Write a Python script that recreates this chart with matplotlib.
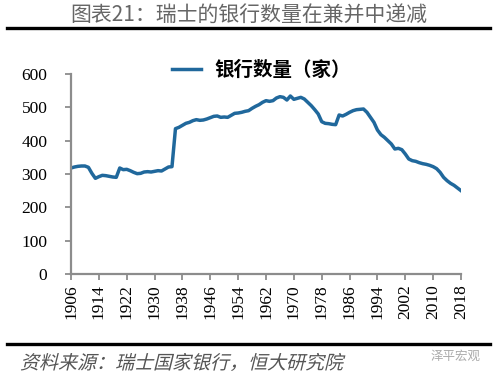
import numpy as np
import matplotlib
matplotlib.use("Agg")
import matplotlib.pyplot as plt
from matplotlib.lines import Line2D
from matplotlib.patches import PathPatch
from matplotlib.textpath import TextPath
from matplotlib.font_manager import FontProperties
from matplotlib.transforms import Affine2D

# bank count in Switzerland, one value per year
years = np.arange(1906, 2019)
banks = [
    318, 321, 323, 324, 324, 320, 302, 287, 292, 296,   # 1906-1915
    295, 293, 291, 290, 318, 313, 314, 310, 305, 301,   # 1916-1925
    302, 306, 307, 306, 308, 310, 309, 315, 321, 322,   # 1926-1935
    436, 440, 446, 452, 455, 460, 463, 461, 462, 465,   # 1936-1945
    469, 473, 474, 470, 471, 470, 476, 482, 483, 485,   # 1946-1955
    488, 490, 497, 503, 508, 515, 520, 518, 520, 528,   # 1956-1965
    532, 530, 522, 534, 524, 527, 530, 525, 515, 505,   # 1966-1975
    493, 480, 457, 452, 451, 449, 448, 477, 474, 479,   # 1976-1985
    485, 490, 493, 494, 495, 485, 470, 455, 432, 418,   # 1986-1995
    410, 400, 390, 375, 377, 373, 360, 345, 340, 338,   # 1996-2005
    334, 331, 329, 326, 322, 316, 305, 290, 280, 272,   # 2006-2015
    266, 258, 250,                                      # 2016-2018
]
xticks = list(range(1906, 2019, 8))
yticks = [0, 100, 200, 300, 400, 500, 600]

title = "图表21：瑞士的银行数量在兼并中递减"
series_name = "银行数量（家）"
source = "资料来源：瑞士国家银行，恒大研究院"

cjk = ["Noto Sans CJK SC", "DejaVu Sans"]
serif = "Liberation Serif"
grey = "#8c8c8c"

fig = plt.figure(figsize=(4.98, 3.77), dpi=100)
ax = fig.add_axes([71 / 498, 1 - 274 / 377, 390 / 498, 200 / 377])

ax.plot(years, banks, color="#20689c", lw=2.5, label=series_name,
        solid_joinstyle="round")
ax.set_xlim(1906, 2018)
ax.set_ylim(0, 600)
ax.set_xticks(xticks)
ax.set_yticks(yticks)
ax.set_xticklabels([str(t) for t in xticks], rotation=90,
                   family=serif, fontsize=12.5)
ax.set_yticklabels([str(t) for t in yticks], family=serif, fontsize=12.5)
ax.tick_params(axis="y", length=4, width=1.3, color=grey, pad=13)
ax.tick_params(axis="x", length=4, width=1.3, color=grey, pad=3.5)

for side in ["top", "right"]:
    ax.spines[side].set_visible(False)
for side in ["left", "bottom"]:
    ax.spines[side].set_color(grey)
    ax.spines[side].set_linewidth(1.6)

ax.legend(loc="center", bbox_to_anchor=(0.488, 1.02), frameon=False,
          handlelength=1.5, handletextpad=0.65,
          prop={"family": cjk, "size": 14, "weight": "bold"})

# header
fig.text(0.499, 0.960, title, ha="center", va="center",
         family=cjk, fontsize=15, color="#666666")
fig.add_artist(Line2D([0.014, 0.984], [0.926, 0.926], color="black", lw=2.4))

# footer: source line drawn slanted (the original uses an italic face)
fig.add_artist(Line2D([0.014, 0.984], [0.0875, 0.0875], color="black", lw=2.4))
tp = TextPath((0, 0), source, size=19, prop=FontProperties(family="Noto Sans CJK SC"))
slant = Affine2D().skew_deg(14, 0).translate(20, 8)
fig.add_artist(PathPatch(tp, transform=slant, facecolor="#555555",
                         edgecolor="none"))
fig.text(0.965, 0.054, "泽平宏观", ha="right", va="center",
         family=cjk, fontsize=9, color="#aaaaaa")

fig.savefig("out.png", dpi=100)
